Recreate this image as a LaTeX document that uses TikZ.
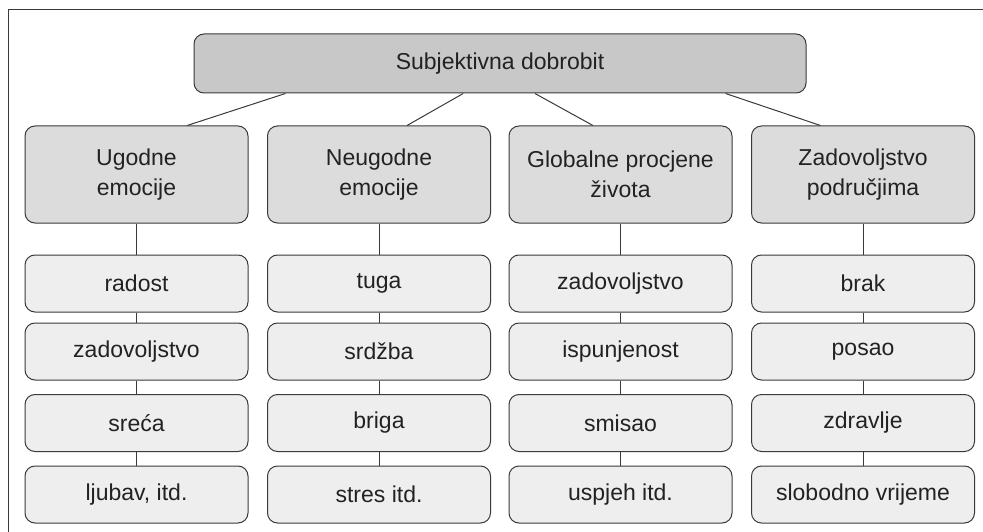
\documentclass[tikz,border=0pt]{standalone}
\usepackage{fontspec}
\setmainfont{Liberation Sans}
\usetikzlibrary{calc}

\definecolor{linegray}{HTML}{3A3A3A}
\definecolor{textgray}{HTML}{222222}
\definecolor{topgray}{HTML}{C8C8C8}
\definecolor{catgray}{HTML}{DCDCDC}
\definecolor{itemgray}{HTML}{EEEEEE}

\tikzset{
    box/.style={draw=linegray, line width=1pt, rounded corners=10pt, text=textgray,
        font=\fontsize{23}{30}\selectfont, align=center, inner sep=0pt},
    glavni/.style={box, fill=topgray, minimum width=612pt, minimum height=59pt},
    kategorija/.style={box, fill=catgray, minimum width=223pt, minimum height=97pt},
    stavka/.style={box, fill=itemgray, minimum width=223pt, minimum height=57pt},
    veza/.style={draw=linegray, line width=1pt}
}

\begin{document}
\begin{tikzpicture}[x=1pt, y=-1pt]
    \useasboundingbox (0,0) rectangle (983,532);
    % okvir:
    \draw[linegray, line width=1.2pt] (8.5,532) -- (8.5,9.5) -- (983,9.5);

    % vrh:
    \node[glavni] (sd) at (500,63.5) {Subjektivna dobrobit};

    % kategorije:
    \node[kategorija] (ug) at (136.5,174.5) {Ugodne\\emocije};
    \node[kategorija] (ne) at (379,174.5) {Neugodne\\emocije};
    \node[kategorija] (gl) at (620.5,174.5) {Globalne procjene\\života};
    \node[kategorija] (za) at (863,174.5) {Zadovoljstvo\\područjima};

    % ugodne emocije:
    \node[stavka] (ug1) at (136.5,283.5) {radost};
    \node[stavka] (ug2) at (136.5,351.5) {zadovoljstvo};
    \node[stavka] (ug3) at (136.5,423) {sreća};
    \node[stavka] (ug4) at (136.5,494.5) {ljubav, itd.};
    % neugodne emocije:
    \node[stavka] (ne1) at (379,283.5) {tuga};
    \node[stavka] (ne2) at (379,351.5) {srdžba};
    \node[stavka] (ne3) at (379,423) {briga};
    \node[stavka] (ne4) at (379,494.5) {stres itd.};
    % globalne procjene:
    \node[stavka] (gl1) at (620.5,283.5) {zadovoljstvo};
    \node[stavka] (gl2) at (620.5,351.5) {ispunjenost};
    \node[stavka] (gl3) at (620.5,423) {smisao};
    \node[stavka] (gl4) at (620.5,494.5) {uspjeh itd.};
    % podrucja:
    \node[stavka] (za1) at (863,283.5) {brak};
    \node[stavka] (za2) at (863,351.5) {posao};
    \node[stavka] (za3) at (863,423) {zdravlje};
    \node[stavka] (za4) at (863,494.5) {slobodno vrijeme};

    % veze od vrha:
    \draw[veza] ($(sd.south west)!0.15!(sd.south east)$) -- ($(ug.north west)!0.726!(ug.north east)$);
    \draw[veza] ($(sd.south west)!0.44!(sd.south east)$) -- ($(ne.north west)!0.625!(ne.north east)$);
    \draw[veza] ($(sd.south west)!0.557!(sd.south east)$) -- ($(gl.north west)!0.377!(gl.north east)$);
    \draw[veza] ($(sd.south west)!0.868!(sd.south east)$) -- ($(za.north west)!0.31!(za.north east)$);

    % okomite veze:
    \foreach \k in {ug,ne,gl,za} {
        \draw[veza] (\k) -- (\k1);
        \draw[veza] (\k1) -- (\k2);
        \draw[veza] (\k2) -- (\k3);
        \draw[veza] (\k3) -- (\k4);
    }
\end{tikzpicture}
\end{document}
